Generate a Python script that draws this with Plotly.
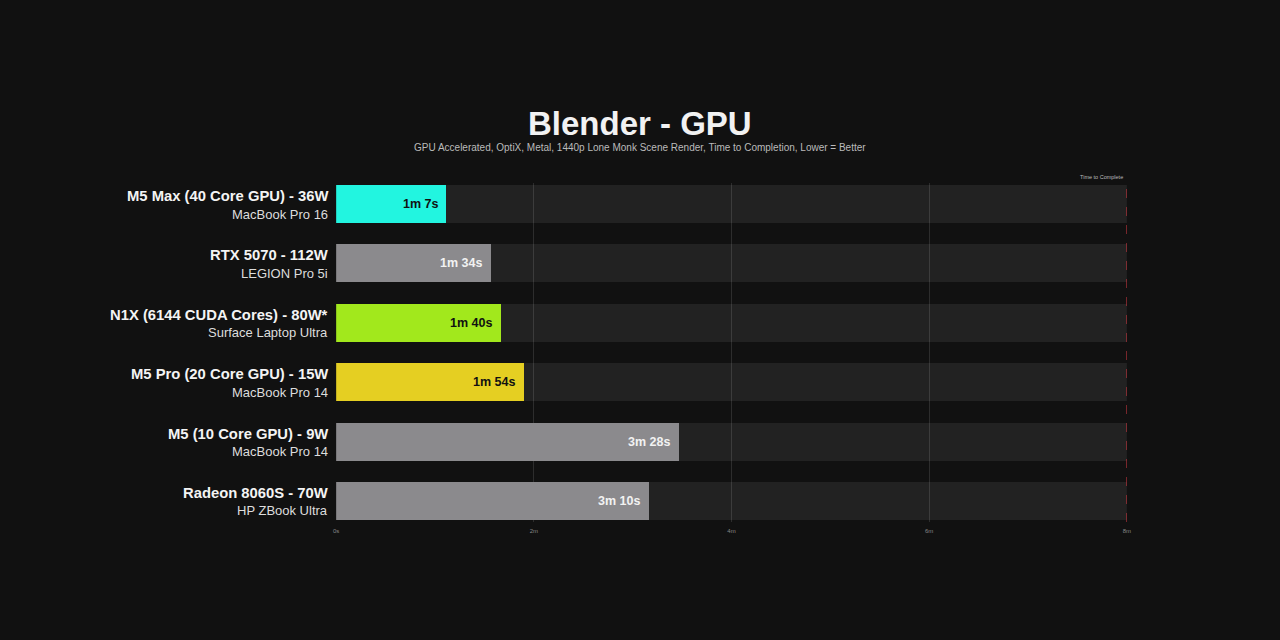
import plotly.graph_objects as go

# ---- data ----
gpu_names = ["M5 Max (40 Core GPU) - 36W", "RTX 5070 - 112W", "N1X (6144 CUDA Cores) - 80W*",
             "M5 Pro (20 Core GPU) - 15W", "M5 (10 Core GPU) - 9W", "Radeon 8060S - 70W"]
devices = ["MacBook Pro 16", "LEGION Pro 5i", "Surface Laptop Ultra",
           "MacBook Pro 14", "MacBook Pro 14", "HP ZBook Ultra"]
seconds = [67, 94, 100, 114, 208, 190]
value_labels = ["1m 7s", "1m 34s", "1m 40s", "1m 54s", "3m 28s", "3m 10s"]
bar_colors = ["#22F5E0", "#8B8A8D", "#A2E81C", "#E5CF22", "#8B8A8D", "#8B8A8D"]
label_colors = ["#111111", "#F2F2F2", "#111111", "#111111", "#F2F2F2", "#F2F2F2"]
tick_vals = [0, 120, 240, 360, 480]
tick_text = ["0s", "2m", "4m", "6m", "8m"]
x_max = 480

W, H = 1280, 640
FONT = "Liberation Sans, Arial, sans-serif"
ypos = list(range(len(gpu_names)))
X0, X1 = 335, 1130

fig = go.Figure()
# background tracks
fig.add_trace(go.Bar(x=[x_max] * len(ypos), y=ypos, orientation="h", width=0.64,
                     marker=dict(color="rgba(255,255,255,0.075)", line=dict(width=0)),
                     hoverinfo="skip", showlegend=False))
# values
fig.add_trace(go.Bar(x=seconds, y=ypos, orientation="h", width=0.64,
                     marker=dict(color=bar_colors, line=dict(width=0)),
                     showlegend=False))

annotations = []
for i, (n, d, v, lab, lc) in enumerate(zip(gpu_names, devices, seconds, value_labels, label_colors)):
    annotations.append(dict(x=v, y=i, xref="x", yref="y", text=f"<b>{lab}</b>", showarrow=False,
                            xanchor="right", yanchor="middle", xshift=-7,
                            font=dict(family=FONT, size=12.5, color=lc)))
    annotations.append(dict(x=329 / W, y=i, xref="paper", yref="y", text=f"<b>{n}</b>", showarrow=False,
                            xanchor="right", yanchor="middle", yshift=8,
                            font=dict(family=FONT, size=14.8, color="#F4F4F4")))
    annotations.append(dict(x=329 / W, y=i, xref="paper", yref="y", text=d, showarrow=False,
                            xanchor="right", yanchor="middle", yshift=-10,
                            font=dict(family=FONT, size=13, color="#DDDDDD")))

annotations.append(dict(x=640 / W, y=1 - 124 / H, xref="paper", yref="paper", text="<b>Blender - GPU</b>",
                        showarrow=False, xanchor="center", yanchor="middle",
                        font=dict(family=FONT, size=33, color="#F2F2F2")))
annotations.append(dict(x=640 / W, y=1 - 148 / H, xref="paper", yref="paper",
                        text="GPU Accelerated, OptiX, Metal, 1440p Lone Monk Scene Render, Time to Completion, Lower = Better",
                        showarrow=False, xanchor="center", yanchor="middle",
                        font=dict(family=FONT, size=10, color="#BBBBBB")))
annotations.append(dict(x=1128 / W, y=1 - 177 / H, xref="paper", yref="paper", text="Time to Complete",
                        showarrow=False, xanchor="right", yanchor="middle",
                        font=dict(family=FONT, size=5.5, color="#BBBBBB")))

fig.update_layout(
    width=W, height=H,
    margin=dict(l=0, r=0, t=0, b=0),
    paper_bgcolor="#111111", plot_bgcolor="rgba(0,0,0,0)",
    barmode="overlay", bargap=0,
    xaxis=dict(domain=[X0 / W, X1 / W], range=[0, x_max], tickvals=tick_vals, ticktext=tick_text,
               showgrid=True, gridcolor="rgba(255,255,255,0.12)", gridwidth=1, zeroline=False,
               showline=False, ticks="", tickfont=dict(family=FONT, size=6, color="#888888"),
               ticklabelstandoff=4, fixedrange=True),
    yaxis=dict(domain=[1 - 522 / H, 1 - 183 / H], range=[5.354, -0.354], showticklabels=False,
               showgrid=False, zeroline=False, showline=False, ticks="", fixedrange=True),
    annotations=annotations,
    shapes=[dict(type="line", xref="x", yref="paper", x0=x_max, x1=x_max, y0=1 - 522 / H, y1=1 - 183 / H,
                 line=dict(color="rgba(220,60,70,0.9)", width=1, dash="dash"))],
)

fig.write_html("out.html")
